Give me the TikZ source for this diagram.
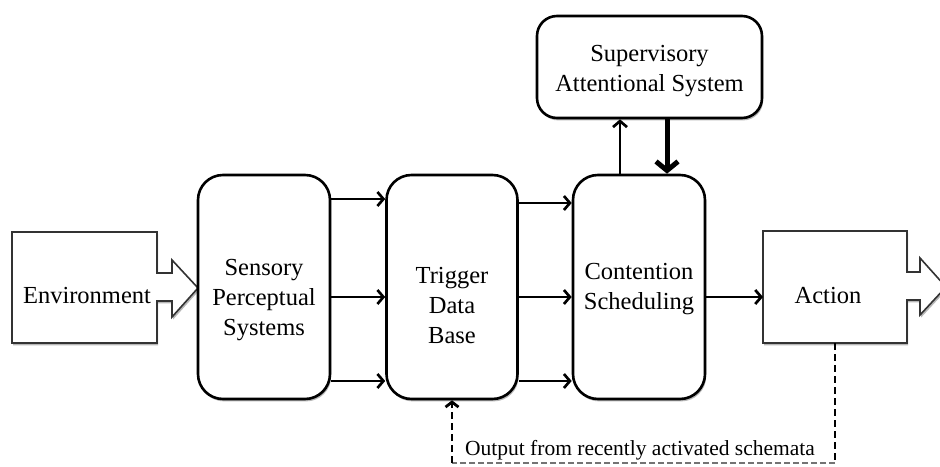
\documentclass[tikz,border=0pt]{standalone}
\usepackage{fontspec}
\setmainfont{Liberation Serif}
\usetikzlibrary{arrows.meta,shadows}
\begin{document}
\begin{tikzpicture}[x=1pt,y=-1pt,
  boxshadow/.style={drop shadow={shadow xshift=1.2pt,shadow yshift=-2.4pt,opacity=0.4,fill=black!70}},
  roundbox/.style={draw=black,line width=2.6pt,rounded corners=25pt,fill=white,boxshadow},
  flatbox/.style={draw=black!80,line width=1.6pt,fill=white,boxshadow},
  area/.style={inner sep=0pt,outer sep=0pt,draw=none},
  lbl/.style={inner sep=0pt,align=center,font=\fontsize{24.5}{30}\selectfont},
  smalllbl/.style={inner sep=0pt,font=\fontsize{21.5}{26}\selectfont},
  arr/.style={line width=2.7pt,-{Straight Barb[length=6pt,width=14pt]}},
  thickarr/.style={line width=5pt,-{Straight Barb[length=9pt,width=22pt]}},
  dasharr/.style={line width=2.8pt,dash pattern=on 7pt off 4pt,-{Straight Barb[length=5pt,width=13pt]}},
  dashline/.style={line width=2.8pt,dash pattern=on 7pt off 4pt},
  greydash/.style={line width=1.4pt,draw=black!55,dash pattern=on 6pt off 3pt}]
\clip (0,0) rectangle (940,466);
\fill[white] (0,0) rectangle (940,466);

% environment block with its outgoing block arrow
\node[area,minimum width=145pt,minimum height=111pt] (env) at (84.5,287.5) {};
\draw[flatbox,line join=miter]
  (env.north west) -- (env.north east) -- ++(0,41) -- ++(15,0) -- ++(0,-13)
  -- (198,288) -- (172,317) -- ++(0,-16) -- (env.east |- 0,301) -- (env.south east)
  -- (env.south west) -- cycle;
\node[lbl] (envt) at (87,296) {Environment};

% processing stages
\node[roundbox,minimum width=132pt,minimum height=224pt] (sps) at (264,287) {};
\node[lbl] (spst) at (264,300) {Sensory\\Perceptual\\Systems};

\node[roundbox,minimum width=131pt,minimum height=224pt] (tdb) at (452,287) {};
\node[lbl] (tdbt) at (452,306) {Trigger\\Data\\Base};

\node[roundbox,minimum width=132pt,minimum height=224pt] (cs) at (639,287) {};
\node[lbl] (cst) at (639,289) {Contention\\Scheduling};

\node[roundbox,rounded corners=20pt,minimum width=225pt,minimum height=102pt] (sas) at (649.5,67) {};
\node[lbl] (sast) at (649.5,71) {Supervisory\\Attentional System};

% action block with its outgoing block arrow
\node[area,minimum width=144pt,minimum height=112pt] (act) at (835,287) {};
\draw[flatbox,line join=miter]
  (act.north west) -- (act.north east) -- ++(0,41) -- ++(13,0) -- ++(0,-14)
  -- (946,287) -- (920,315) -- ++(0,-15) -- (act.east |- 0,300) -- (act.south east)
  -- (act.south west) -- cycle;
\node[lbl] (actt) at (828,296) {Action};

% stage-to-stage connections
\foreach \y in {199,297,381}
  \draw[arr] (sps.east |- 0,\y) -- (tdb.west |- 0,\y);
\foreach \y in {203,297,381}
  \draw[arr] (tdb.east |- 0,\y) -- (cs.west |- 0,\y);
\draw[arr] (cs.east |- 0,297) -- (act.west |- 0,297);

% supervisory loop
\draw[arr] (cs.north -| 620,0) -- (sas.south -| 620,0);
\draw[thickarr] (sas.south -| 667,0) -- (cs.north -| 667,0);

% feedback from recently activated schemata
\coordinate (fbr) at (835,463);
\coordinate (fbl) at (452,463);
\draw[dashline] (act.south -| fbr) -- (fbr);
\draw[greydash] (fbr) -- (fbl);
\draw[dasharr] (fbl) -- (tdb.south -| fbl);
\node[smalllbl] (fbt) at (640,450) {Output from recently activated schemata};
\end{tikzpicture}
\end{document}
